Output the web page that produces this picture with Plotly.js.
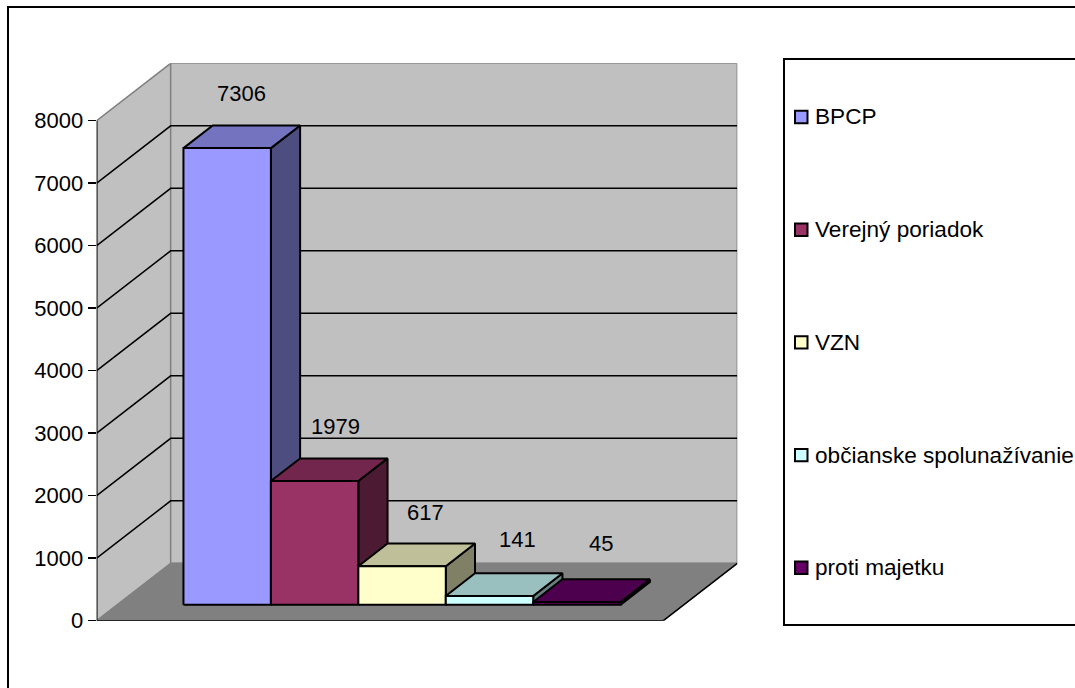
<!DOCTYPE html>
<html>
<head>
<meta charset="utf-8">
<script src="https://cdn.plot.ly/plotly-3.0.1.min.js"></script>
<style>html,body{margin:0;padding:0;background:#fff;overflow:hidden}</style>
</head>
<body>
<div id="chart" style="width:1075px;height:688px"></div>
<script>
// Data
var seriesNames = ['BPCP', 'Verejný poriadok', 'VZN', 'občianske spolunažívanie', 'proti majetku'];
var seriesValues = [7306, 1979, 617, 141, 45];
var yTicks = [0, 1000, 2000, 3000, 4000, 5000, 6000, 7000, 8000];

// Colours per series
var frontColors = ['#9999FF', '#993366', '#FFFFCC', '#CCFFFF', '#660066'];
var topColors = ['#7373BF', '#73264D', '#BFBF99', '#99BFBF', '#4D004D'];
var sideColors = ['#4D4D80', '#4D1A33', '#808066', '#668080', '#330033'];

// Oblique projection (in axis units: one x unit is one bar width)
var DEPTH_X = 0.846, DEPTH_Y = 918;
var FLOOR_W = 6.48, GAP = 0.757;
var BAR_D0 = 0.278, BAR_D1 = 0.673;
var Y_MAX = 8000 + DEPTH_Y, X_MAX = FLOOR_W + DEPTH_X;
var labelNudgeX = [-15, -8, -6, -1, -5];
var labelNudgeY = [32, 32, 31, 34, 36];

function P(x, v, d) { return [x + d * DEPTH_X, v + d * DEPTH_Y]; }
var traces = [];
function poly(pts, fill, lineColor, lineW, name) {
  var xs = pts.map(function (p) { return p[0]; });
  var ys = pts.map(function (p) { return p[1]; });
  var t = {
    type: 'scatter', mode: 'lines', x: xs, y: ys, hoverinfo: 'skip', showlegend: false,
    cliponaxis: false, name: name || '',
    line: { color: lineColor, width: lineW, simplify: false }
  };
  if (fill) { t.fill = 'toself'; t.fillcolor = fill; }
  traces.push(t);
}
function closed(a) { return a.concat([a[0]]); }

// Walls and floor
poly(closed([P(0, 0, 0), P(0, 8000, 0), P(0, 8000, 1), P(0, 0, 1)]), '#C0C0C0', '#808080', 1.5);
poly(closed([P(0, 0, 1), P(0, 8000, 1), P(FLOOR_W, 8000, 1), P(FLOOR_W, 0, 1)]), '#C0C0C0', '#808080', 1.5);
poly(closed([P(0, 0, 0), P(0, 0, 1), P(FLOOR_W, 0, 1), P(FLOOR_W, 0, 0)]), '#808080', '#808080', 1);

// Gridlines
yTicks.slice(1, -1).forEach(function (v) {
  poly([P(0, v, 0), P(0, v, 1), P(FLOOR_W, v, 1)], null, '#000000', 1.5);
});

// Front edges and value axis
poly([P(0, 0, 0), P(FLOOR_W, 0, 0), P(FLOOR_W, 0, 1)], null, '#000000', 1.5);
poly([P(0, 0, 0), P(0, 8000, 0)], null, '#000000', 1.5);

// Bars
seriesValues.forEach(function (v, i) {
  var x0 = GAP + i, x1 = x0 + 1;
  var a = BAR_D0, b = BAR_D1;
  poly(closed([P(x1, 0, a), P(x1, v, a), P(x1, v, b), P(x1, 0, b)]), sideColors[i], '#000000', 2);
  poly(closed([P(x0, v, a), P(x0, v, b), P(x1, v, b), P(x1, v, a)]), topColors[i], '#000000', 2);
  poly(closed([P(x0, 0, a), P(x0, v, a), P(x1, v, a), P(x1, 0, a)]), frontColors[i], '#000000', 2, seriesNames[i]);
});

var FONT = { family: 'Liberation Sans, Arial, sans-serif', size: 22, color: '#000000' };
var LEGEND_FONT = { family: 'Liberation Sans, Arial, sans-serif', size: 22.6, color: '#000000' };
var annotations = [];
seriesValues.forEach(function (v, i) {
  var p = P(GAP + i + 0.5, v, BAR_D1);
  annotations.push({
    x: p[0], y: p[1], xref: 'x', yref: 'y', text: String(v), showarrow: false,
    xanchor: 'center', yanchor: 'middle', yshift: labelNudgeY[i], xshift: labelNudgeX[i], font: FONT
  });
});

// Legend (box, swatches, labels)
var W = 1075, H = 688;
function fx(px) { return px / W; }
function fy(py) { return 1 - py / H; }
var LEG_Y0 = 117, LEG_STEP = 112.7;
var shapes = [
  { type: 'rect', xref: 'paper', yref: 'paper', x0: fx(8), x1: 1.1, y0: -0.1, y1: fy(7), line: { color: '#000', width: 2 } },
  { type: 'rect', xref: 'paper', yref: 'paper', x0: fx(784), x1: 1.1, y0: fy(625), y1: fy(59), line: { color: '#000', width: 2 } }
];
seriesNames.forEach(function (n, i) {
  var cy = LEG_Y0 + i * LEG_STEP;
  shapes.push({
    type: 'rect', xref: 'paper', yref: 'paper', x0: fx(795), x1: fx(807.5), y0: fy(cy + 6.2), y1: fy(cy - 6.2),
    fillcolor: frontColors[i], line: { color: '#000', width: 2 }
  });
  annotations.push({
    xref: 'paper', yref: 'paper', x: fx(813), y: fy(cy), text: n, showarrow: false,
    xanchor: 'left', yanchor: 'middle', font: LEGEND_FONT
  });
});

var layout = {
  width: W, height: H,
  margin: { l: 0, r: 0, t: 0, b: 0, pad: 0 },
  paper_bgcolor: '#ffffff', plot_bgcolor: 'rgba(0,0,0,0)',
  showlegend: false,
  xaxis: {
    domain: [96.7 / W, 737.3 / W], range: [0, X_MAX], visible: false, fixedrange: true
  },
  yaxis: {
    domain: [(H - 620.7) / H, (H - 63.3) / H], range: [0, Y_MAX], anchor: 'x', fixedrange: true,
    tickmode: 'array', tickvals: yTicks, ticktext: yTicks.map(String),
    showgrid: false, zeroline: false, showline: false,
    ticks: 'outside', ticklen: 8, tickwidth: 1.5, tickcolor: '#000',
    tickfont: FONT
  },
  shapes: shapes,
  annotations: annotations
};
Plotly.newPlot('chart', traces, layout, { displayModeBar: false, staticPlot: true });
</script>
</body>
</html>
